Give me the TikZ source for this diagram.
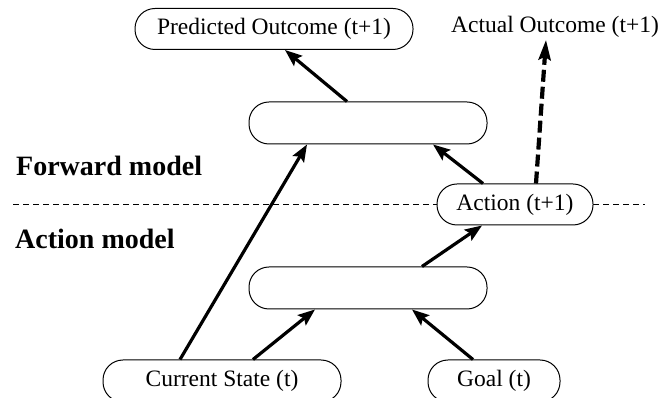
\documentclass[tikz,border=0pt]{standalone}
\usepackage{fontspec}
\setmainfont{Liberation Serif}
\usepackage{tikz}
\usetikzlibrary{arrows.meta,positioning,calc}

\begin{document}
\begin{tikzpicture}[
	x=1pt, y=1pt,
	box/.style={draw, line width=1pt, rounded corners=20pt, fill=white, inner sep=4pt,
		minimum height=41pt, font=\fontsize{23.5}{27}\selectfont},
	plain/.style={inner sep=2pt, font=\fontsize{23.5}{27}\selectfont},
	part/.style={anchor=base west, inner sep=0pt, font=\fontsize{28}{32}\selectfont\bfseries},
	arrow/.style={-{Stealth[length=17pt, width=13pt, inset=3pt]}, line width=3.2pt},
	outcome/.style={-{Stealth[length=20pt, width=12pt, inset=3pt]}, line width=4.2pt, dash pattern=on 12pt off 5pt},
	split/.style={line width=0.7pt, dash pattern=on 6pt off 4pt}
]
\useasboundingbox (0,0) rectangle (672,398);

\draw[split] (13,193.5) -- (645,193.5);

\node[box, minimum width=278pt] (pred) at (274,369) {Predicted Outcome (t+1)};
\node[plain] (actual) at (555,371) {Actual Outcome (t+1)};
\node[box, minimum width=238pt, minimum height=42pt] (fwd) at (368,275) {};
\node[box, minimum width=156pt] (act) at (515,193.5) {Action (t+1)};
\node[box, minimum width=238pt, minimum height=42pt] (bot) at (368,110) {};
\node[box, minimum width=238pt, minimum height=42pt] (cur) at (222,17) {Current State (t)};
\node[box, minimum width=132pt, minimum height=42pt] (goal) at (494,17) {Goal (t)};

\node[part] (fwdlabel) at (16,222) {Forward model};
\node[part] (actlabel) at (15,149) {Action model};

\draw[arrow] ([xshift=-21pt]fwd.north) -- ([xshift=11pt]pred.south);
\draw[arrow] ([xshift=-32pt]act.north) -- ([xshift=65pt]fwd.south);
\draw[outcome] ([xshift=21pt]act.north) -- ([xshift=-9pt]actual.south);
\draw[arrow] ([xshift=-42pt]cur.north) -- ([xshift=-61pt]fwd.south);
\draw[arrow] ([xshift=31pt]cur.north) -- ([xshift=-53pt]bot.south);
\draw[arrow] ([xshift=-21pt]goal.north) -- ([xshift=44pt]bot.south);
\draw[arrow] ([xshift=54pt]bot.north) -- ([xshift=-33pt]act.south);
\end{tikzpicture}
\end{document}
